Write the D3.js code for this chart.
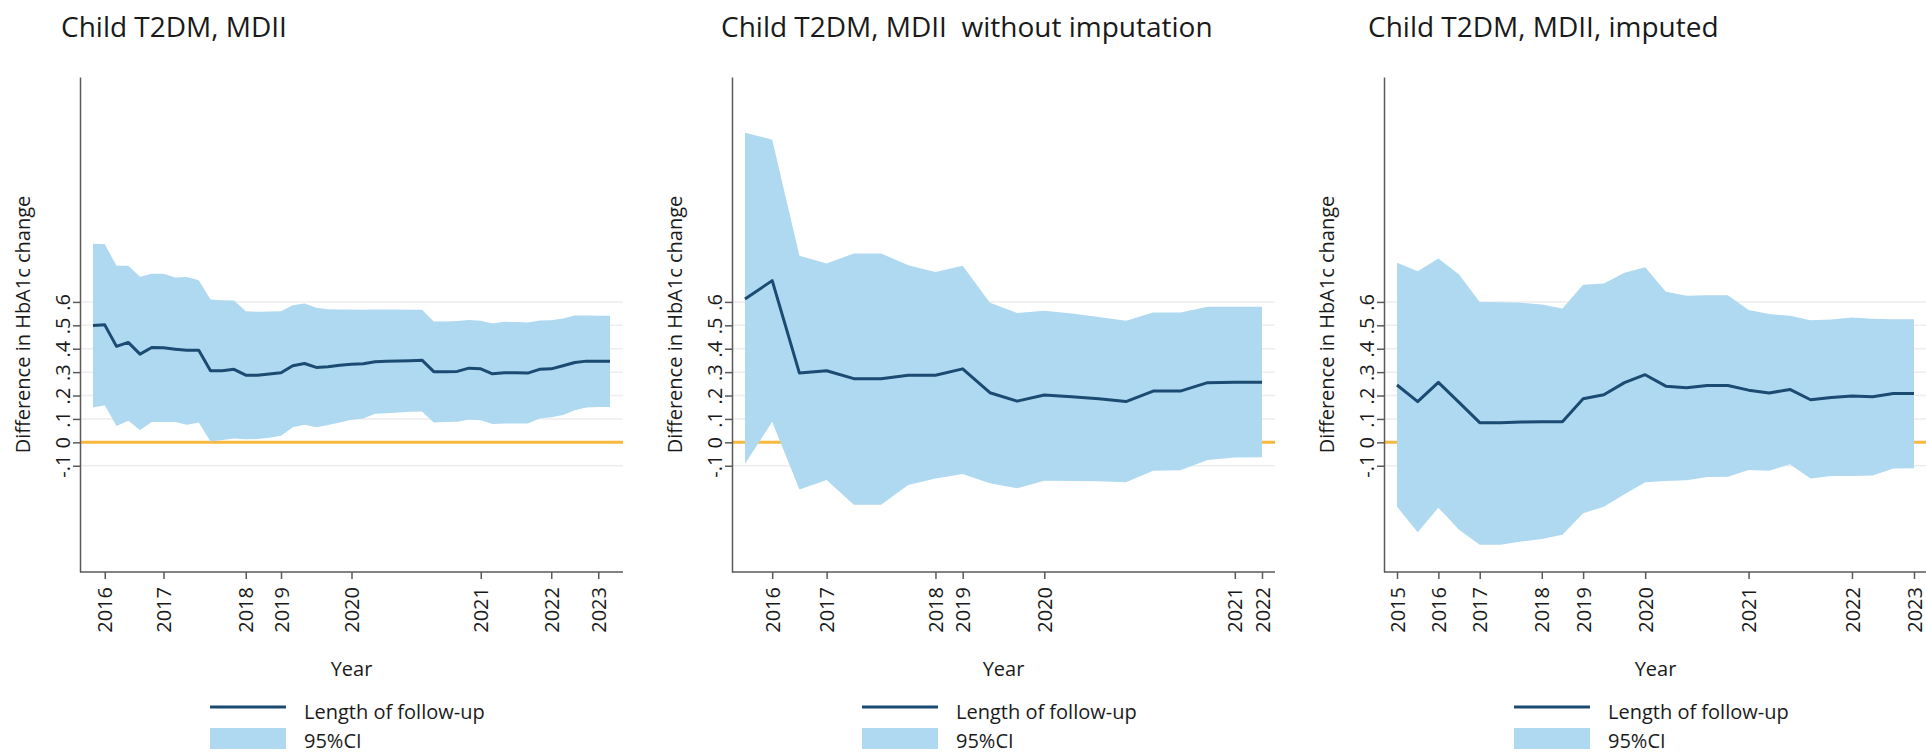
<!DOCTYPE html>
<html>
<head>
<meta charset="utf-8">
<script src="https://cdn.jsdelivr.net/npm/d3@7"></script>
<style>
  body { margin: 0; background: #fff; }
  text { font-family: "Open Sans", "Noto Sans", sans-serif; fill: #1a1a1a; }
</style>
</head>
<body>
<svg id="chart" width="1926" height="754"></svg>
<script>
// ---- data: estimate and 95% CI by follow-up point, one set per panel ----
const panelTitles = ["Child T2DM, MDII", "Child T2DM, MDII  without imputation", "Child T2DM, MDII, imputed"];

const panel1Estimate = [0.499, 0.502, 0.410, 0.427, 0.377, 0.405, 0.404, 0.398, 0.393, 0.393,
  0.306, 0.306, 0.312, 0.287, 0.287, 0.292, 0.297, 0.327, 0.337, 0.320,
  0.323, 0.329, 0.334, 0.336, 0.344, 0.346, 0.348, 0.349, 0.351, 0.302,
  0.302, 0.303, 0.317, 0.314, 0.293, 0.297, 0.297, 0.296, 0.312, 0.314,
  0.327, 0.341, 0.347, 0.347, 0.347];
const panel1Upper = [0.849, 0.846, 0.754, 0.754, 0.707, 0.720, 0.720, 0.704, 0.706, 0.693,
  0.610, 0.607, 0.606, 0.560, 0.558, 0.559, 0.560, 0.586, 0.593, 0.575,
  0.569, 0.568, 0.568, 0.566, 0.568, 0.568, 0.568, 0.566, 0.566, 0.516,
  0.516, 0.518, 0.523, 0.519, 0.508, 0.515, 0.514, 0.512, 0.521, 0.522,
  0.529, 0.542, 0.542, 0.541, 0.541];
const panel1Lower = [0.149, 0.158, 0.070, 0.092, 0.053, 0.087, 0.087, 0.087, 0.075, 0.085,
  0.004, 0.010, 0.016, 0.013, 0.014, 0.020, 0.028, 0.065, 0.075, 0.064,
  0.074, 0.085, 0.097, 0.102, 0.122, 0.124, 0.128, 0.131, 0.132, 0.085,
  0.087, 0.088, 0.098, 0.094, 0.078, 0.080, 0.080, 0.081, 0.102, 0.107,
  0.117, 0.137, 0.149, 0.151, 0.151];
const panel1TickIndex = [1, 6, 13, 16, 22, 33, 39, 43];
const panel1TickYear = ["2016", "2017", "2018", "2019", "2020", "2021", "2022", "2023"];

const panel2Estimate = [0.612, 0.691, 0.296, 0.306, 0.272, 0.272, 0.287, 0.287, 0.314, 0.212,
  0.176, 0.202, 0.195, 0.186, 0.174, 0.219, 0.219, 0.255, 0.257, 0.257];
const panel2Upper = [1.323, 1.293, 0.797, 0.764, 0.807, 0.807, 0.757, 0.728, 0.755, 0.596,
  0.553, 0.562, 0.550, 0.536, 0.519, 0.555, 0.555, 0.579, 0.579, 0.579];
const panel2Lower = [-0.092, 0.088, -0.201, -0.161, -0.267, -0.267, -0.182, -0.154, -0.135, -0.175,
  -0.196, -0.164, -0.165, -0.166, -0.171, -0.121, -0.119, -0.075, -0.065, -0.064];
const panel2TickIndex = [1, 3, 7, 8, 11, 18, 19];
const panel2TickYear = ["2016", "2017", "2018", "2019", "2020", "2021", "2022"];

const panel3Estimate = [0.245, 0.174, 0.256, 0.171, 0.084, 0.084, 0.087, 0.088, 0.088, 0.186,
  0.203, 0.255, 0.289, 0.240, 0.233, 0.243, 0.243, 0.223, 0.211, 0.226,
  0.182, 0.192, 0.198, 0.195, 0.209, 0.209];
const panel3Upper = [0.767, 0.731, 0.785, 0.717, 0.600, 0.599, 0.596, 0.589, 0.572, 0.673,
  0.679, 0.725, 0.748, 0.643, 0.626, 0.629, 0.629, 0.565, 0.548, 0.541,
  0.522, 0.525, 0.533, 0.528, 0.526, 0.526];
const panel3Lower = [-0.275, -0.384, -0.279, -0.374, -0.438, -0.438, -0.424, -0.413, -0.395, -0.303,
  -0.275, -0.222, -0.171, -0.165, -0.162, -0.148, -0.147, -0.118, -0.121, -0.094,
  -0.155, -0.144, -0.144, -0.142, -0.112, -0.111];
const panel3TickIndex = [0, 2, 4, 7, 9, 12, 17, 22, 25];
const panel3TickYear = ["2015", "2016", "2017", "2018", "2019", "2020", "2021", "2022", "2023"];

const yTickValues = [-0.1, 0, 0.1, 0.2, 0.3, 0.4, 0.5, 0.6];
const yTickLabels = ["-.1", "0", ".1", ".2", ".3", ".4", ".5", ".6"];
const legendLabels = ["Length of follow-up", "95%CI"];
const xAxisTitle = "Year";
const yAxisTitle = "Difference in HbA1c change";

// ---- layout ----
const panels = [
  { x0: 80,   titleX: 61,   est: panel1Estimate, hi: panel1Upper, lo: panel1Lower, ticks: panel1TickIndex, years: panel1TickYear },
  { x0: 732,  titleX: 721,  est: panel2Estimate, hi: panel2Upper, lo: panel2Lower, ticks: panel2TickIndex, years: panel2TickYear },
  { x0: 1384, titleX: 1368, est: panel3Estimate, hi: panel3Upper, lo: panel3Lower, ticks: panel3TickIndex, years: panel3TickYear }
];
const plotW = 543, plotTop = 77, plotBottom = 572, pad = 13;
const colors = { ci: "#aed9f1", line: "#1b4a72", zero: "#f7b83d", grid: "#ededed", axis: "#5a5a5a" };

const svg = d3.select("#chart");
svg.append("rect").attr("width", 1926).attr("height", 754).attr("fill", "#fff");

const y = d3.scaleLinear().domain([-0.554, 1.561]).range([plotBottom, plotTop]);

panels.forEach((p, k) => {
  const g = svg.append("g").attr("transform", `translate(${p.x0},0)`);
  const x = d3.scaleLinear().domain([0, p.est.length - 1]).range([pad, plotW - pad]);

  // title
  svg.append("text")
    .attr("x", p.titleX).attr("y", 37)
    .attr("font-size", 28)
    .style("white-space", "pre")
    .text(panelTitles[k]);

  // horizontal gridlines
  g.selectAll("line.grid").data(yTickValues).join("line")
    .attr("class", "grid")
    .attr("x1", 0).attr("x2", plotW)
    .attr("y1", d => y(d)).attr("y2", d => y(d))
    .attr("stroke", colors.grid).attr("stroke-width", 1.5);

  // reference line at zero
  g.append("line")
    .attr("x1", 0).attr("x2", plotW)
    .attr("y1", y(0)).attr("y2", y(0))
    .attr("stroke", colors.zero).attr("stroke-width", 3);

  // confidence band
  const band = d3.area()
    .x((d, i) => x(i))
    .y0((d, i) => y(p.lo[i]))
    .y1((d, i) => y(p.hi[i]));
  g.append("path").datum(p.est).attr("d", band).attr("fill", colors.ci);

  // point estimate
  const line = d3.line().x((d, i) => x(i)).y(d => y(d));
  g.append("path").datum(p.est).attr("d", line)
    .attr("fill", "none").attr("stroke", colors.line)
    .attr("stroke-width", 3).attr("stroke-linejoin", "round");

  // y axis
  const ya = g.append("g").call(
    d3.axisLeft(y).tickValues(yTickValues)
      .tickFormat((d, i) => yTickLabels[i])
      .tickSize(7).tickSizeOuter(0));
  ya.select(".domain").attr("stroke", colors.axis).attr("stroke-width", 1.5);
  ya.selectAll(".tick line").attr("stroke", colors.axis).attr("stroke-width", 1.5);
  ya.selectAll(".tick text")
    .attr("x", null).attr("dy", null)
    .attr("transform", "translate(-10,0) rotate(-90)")
    .attr("text-anchor", "middle")
    .attr("font-size", 20).attr("font-family", null).attr("fill", "#1a1a1a");

  // x axis
  const xa = g.append("g").attr("transform", `translate(0,${plotBottom})`).call(
    d3.axisBottom(x).tickValues(p.ticks)
      .tickFormat((d, i) => p.years[i])
      .tickSize(7).tickSizeOuter(0));
  xa.select(".domain").attr("d", `M0,0H${plotW}`).attr("stroke", colors.axis).attr("stroke-width", 1.5);
  xa.selectAll(".tick line").attr("stroke", colors.axis).attr("stroke-width", 1.5);
  xa.selectAll(".tick text")
    .attr("y", null).attr("dy", "0.36em")
    .attr("transform", "translate(0,15) rotate(-90)")
    .attr("text-anchor", "end")
    .attr("font-size", 20).attr("font-family", null).attr("fill", "#1a1a1a");

  // axis titles
  g.append("text")
    .attr("transform", `translate(-50,${(plotTop + plotBottom) / 2}) rotate(-90)`)
    .attr("text-anchor", "middle").attr("font-size", 20)
    .text(yAxisTitle);
  g.append("text")
    .attr("x", plotW / 2).attr("y", 676)
    .attr("text-anchor", "middle").attr("font-size", 20)
    .text(xAxisTitle);

  // legend
  const lg = g.append("g").attr("transform", "translate(130,0)");
  lg.append("line").attr("x1", 0).attr("x2", 76).attr("y1", 707).attr("y2", 707)
    .attr("stroke", colors.line).attr("stroke-width", 3);
  lg.append("rect").attr("x", 0).attr("y", 728).attr("width", 76).attr("height", 21)
    .attr("fill", colors.ci);
  lg.append("text").attr("x", 94).attr("y", 719).attr("font-size", 20).text(legendLabels[0]);
  lg.append("text").attr("x", 94).attr("y", 748).attr("font-size", 20).text(legendLabels[1]);
});
</script>
</body>
</html>
